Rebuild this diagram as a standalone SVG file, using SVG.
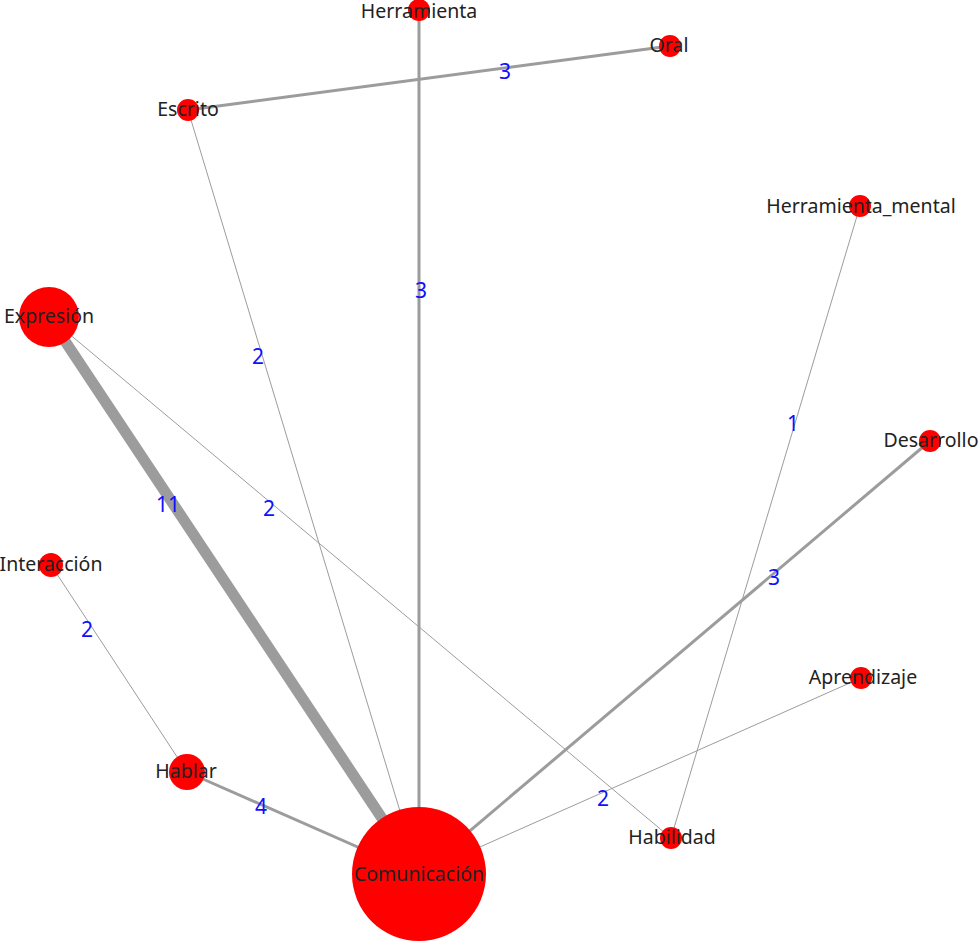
<svg xmlns="http://www.w3.org/2000/svg" width="979" height="942" viewBox="0 0 979 942">
<style>
.e{stroke:#9c9c9c;fill:none}
.w1{stroke-width:1}
.w3{stroke-width:3}
.w11{stroke-width:11}
.el{font-family:"Noto Sans","Open Sans",sans-serif;font-size:21px;fill:#1010ff;text-anchor:middle}
.n{fill:#ff0000}
.nl{font-family:"Noto Sans","Open Sans",sans-serif;font-size:19.5px;fill:#222;text-anchor:middle}
</style>
<rect width="979" height="942" fill="#fff"/>
<g id="connectors">
<line class="e w3" x1="419" y1="10" x2="419" y2="874"/>
<line class="e w3" x1="188" y1="110" x2="670" y2="46"/>
<line class="e w1" x1="188" y1="110" x2="419" y2="874"/>
<line class="e w1" x1="860" y1="206" x2="671" y2="838"/>
<line class="e w11" x1="49" y1="317" x2="419" y2="874"/>
<line class="e w1" x1="49" y1="317" x2="671" y2="838"/>
<line class="e w3" x1="930" y1="441" x2="419" y2="874"/>
<line class="e w1" x1="51" y1="565" x2="187" y2="772"/>
<line class="e w3" x1="187" y1="772" x2="419" y2="874"/>
<line class="e w1" x1="861" y1="678" x2="419" y2="874"/>
<text class="el" x="421" y="298">3</text>
<text class="el" x="505" y="79">3</text>
<text class="el" x="258" y="364">2</text>
<text class="el" x="793" y="431">1</text>
<text class="el" x="168" y="512">11</text>
<text class="el" x="269" y="516">2</text>
<text class="el" x="774" y="585">3</text>
<text class="el" x="87" y="637">2</text>
<text class="el" x="261" y="814">4</text>
<text class="el" x="603" y="806">2</text>
</g>
<g id="n-herramienta"><circle class="n" cx="419" cy="10" r="11"/><text class="nl" x="419" y="18">Herramienta</text></g>
<g id="n-oral"><circle class="n" cx="670" cy="46" r="11"/><text class="nl" x="669" y="52">Oral</text></g>
<g id="n-escrito"><circle class="n" cx="188" cy="110" r="11"/><text class="nl" x="188" y="116">Escrito</text></g>
<g id="n-herramienta-mental"><circle class="n" cx="860" cy="206" r="11"/><text class="nl" x="861" y="213">Herramienta_mental</text></g>
<g id="n-expresion"><circle class="n" cx="49" cy="317" r="30"/><text class="nl" x="49" y="323">Expresión</text></g>
<g id="n-desarrollo"><circle class="n" cx="930" cy="441" r="11"/><text class="nl" x="931" y="447">Desarrollo</text></g>
<g id="n-interaccion"><circle class="n" cx="51" cy="565" r="12"/><text class="nl" x="51" y="571">Interacción</text></g>
<g id="n-aprendizaje"><circle class="n" cx="861" cy="678" r="11"/><text class="nl" x="863" y="684">Aprendizaje</text></g>
<g id="n-hablar"><circle class="n" cx="187" cy="772" r="18"/><text class="nl" x="186" y="778">Hablar</text></g>
<g id="n-habilidad"><circle class="n" cx="671" cy="838" r="11"/><text class="nl" x="672" y="844">Habilidad</text></g>
<g id="n-comunicacion"><circle class="n" cx="419" cy="874" r="67"/><text class="nl" x="419" y="881">Comunicación</text></g>
</svg>
